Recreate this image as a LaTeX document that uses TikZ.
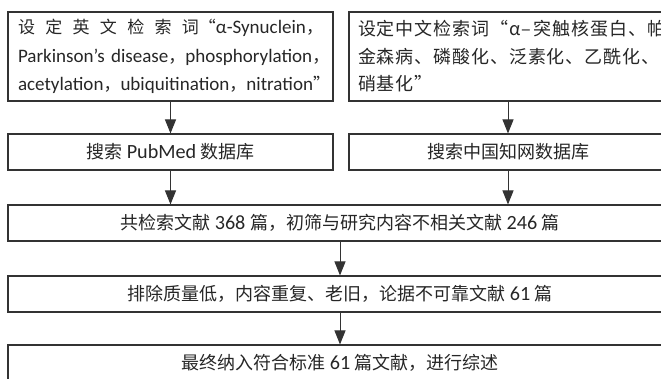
\documentclass[tikz,border=0pt]{standalone}
\usepackage{fontspec}
\setmainfont{Carlito}[Scale=1.12]
\newfontfamily\zhf{Noto Sans CJK SC}
\newfontfamily\zhwide[LetterSpace=5]{Noto Sans CJK SC}
\newcommand\zh[1]{{\zhf #1}}
\newcommand\fullline[1]{\leavevmode\hbox to 305pt{#1}}
\newcommand\natline[1]{\leavevmode\hbox{#1}}
\usetikzlibrary{arrows.meta}
\definecolor{txt}{HTML}{262626}
\definecolor{ln}{HTML}{333333}
\begin{document}
\begin{tikzpicture}[x=1pt,y=-1pt,
  box/.style={draw=ln, line width=1.1pt, rectangle, inner xsep=9pt, inner ysep=0pt,
    text=txt, font=\fontsize{18}{28}\selectfont},
  arr/.style={draw=ln, line width=1pt, -{Triangle[length=14pt,width=11pt]}}]
\useasboundingbox (0,0) rectangle (661,378);
\clip (0,0) rectangle (661,378);
\node[box, minimum width=325pt, minimum height=89pt, text width=305pt, align=left, font=\fontsize{17}{28.5}\selectfont] (b1) at (170.5,56.5)
 {\fullline{\zh{设}\hfil\zh{定}\hfil\zh{英}\hfil\zh{文}\hfil\zh{检}\hfil\zh{索}\hfil\zh{词“}α-Synuclein\zh{，}}\\
  \fullline{Parkinson’s disease\zh{，}\hfil phosphorylation\zh{，}}\\
  \fullline{acetylation\zh{，}\hfil ubiquitination\zh{，}\hfil nitration\zh{”}}};
\node[box, minimum width=318pt, minimum height=89pt, text width=300pt, align=left, font=\fontsize{18}{27.5}\selectfont\zhwide] (b2) at (508,56.5)
 {\natline{设定中文检索词“α–\,突触核蛋白、帕}\\
  \natline{金森病、磷酸化、泛素化、乙酰化、}\\
  \natline{硝基化”}};
\node[box, minimum width=325pt, minimum height=36pt] (b3) at (170.5,152) {\zh{搜索} PubMed \zh{数据库}};
\node[box, minimum width=318pt, minimum height=36pt] (b4) at (508,152) {\zh{搜索中国知网数据库}};
\node[box, minimum width=664pt, minimum height=36pt] (b5) at (340,223) {\zh{共检索文献} 368 \zh{篇，初筛与研究内容不相关文献} 246 \zh{篇}};
\node[box, minimum width=664pt, minimum height=36pt] (b6) at (340,294) {\zh{排除质量低，内容重复、老旧，论据不可靠文献} 61 \zh{篇}};
\node[box, minimum width=664pt, minimum height=36pt] (b7) at (340,363) {\zh{最终纳入符合标准} 61 \zh{篇文献，进行综述}};
\draw[arr] (b1.south) -- (b3.north);
\draw[arr] (b2.south) -- (b4.north);
\draw[arr] (b3.south) -- (b3.south |- b5.north);
\draw[arr] (b4.south) -- (b4.south |- b5.north);
\draw[arr] (b5.south) -- (b6.north);
\draw[arr] (b6.south) -- (b7.north);
\end{tikzpicture}
\end{document}
